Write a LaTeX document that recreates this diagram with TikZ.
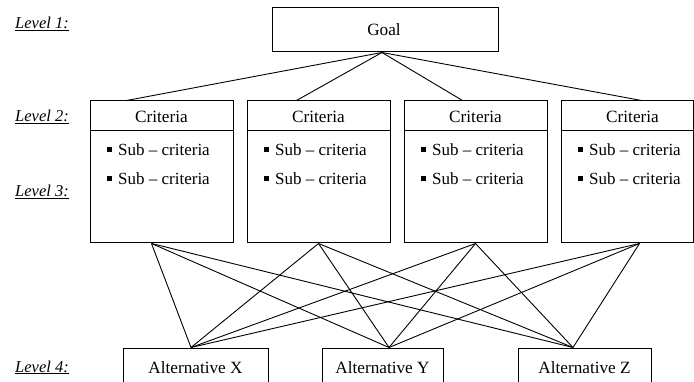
\documentclass[tikz,border=0pt]{standalone}
\usepackage{fontspec}
\setmainfont{Liberation Serif}
\usetikzlibrary{calc}
\newcommand{\mysubcrit}{\rule[3.5pt]{5pt}{5pt}\hspace{6pt}Sub -- criteria}
\begin{document}
\begin{tikzpicture}[x=1pt,y=-1pt,
  box/.style={draw, line width=1pt, inner sep=0pt},
  txt/.style={font=\fontsize{17.2}{20}\selectfont, inner sep=0pt, anchor=base},
  subtxt/.style={font=\fontsize{17}{20}\selectfont, inner sep=0pt, anchor=base west},
  lvl/.style={font=\fontsize{16.5}{20}\selectfont\itshape, inner sep=0pt, anchor=base west},
  link/.style={line width=0.9pt}]
\useasboundingbox (0,0) rectangle (694,382);
\clip (0,0) rectangle (694,382);
% level labels
\node[lvl] (l1) at (15,29) {\underline{Level 1:}};
\node[lvl] (l2) at (15,122) {\underline{Level 2:}};
\node[lvl] (l3) at (15,197) {\underline{Level 3:}};
\node[lvl] (l4) at (15,372) {\underline{Level 4:}};
% goal
\node[box, minimum width=226pt, minimum height=44pt] (goal) at (385,30) {};
\node[txt] (goaltxt) at (384,36) {Goal};
% criteria boxes
\node[box, minimum width=143pt, minimum height=142pt] (c1) at (161.5,172) {};
\node[box, minimum width=143pt, minimum height=142pt] (c2) at (318.5,172) {};
\node[box, minimum width=143pt, minimum height=142pt] (c3) at (475.5,172) {};
\node[box, minimum width=132pt, minimum height=142pt] (c4) at (627,172) {};
\foreach \i/\cx/\lx in {1/161.5/90, 2/318.5/247, 3/475.5/404, 4/632.5/561} {
  \draw[box] ($(c\i.north west)+(0,30)$) -- ($(c\i.north east)+(0,30)$);
  \node[txt] (h\i) at (\cx,122.5) {Criteria};
  \node[subtxt] (sa\i) at (\lx+17,156) {\mysubcrit};
  \node[subtxt] (sb\i) at (\lx+17,185) {\mysubcrit};
}
% alternatives
\node[box, minimum width=145pt, minimum height=52pt] (ax) at (195.5,374) {};
\node[box, minimum width=121pt, minimum height=52pt] (ay) at (382.5,374) {};
\node[box, minimum width=133pt, minimum height=52pt] (az) at (584.5,374) {};
\node[txt] (axt) at (195.5,373) {Alternative X};
\node[txt] (ayt) at (382.5,373) {Alternative Y};
\node[txt] (azt) at (584.5,373) {Alternative Z};
% attachment points
\coordinate (g0) at ([xshift=-3pt]goal.south);
\coordinate (t1) at ([xshift=37pt]c1.north west);
\coordinate (t2) at ([xshift=50pt]c2.north west);
\coordinate (t3) at ([xshift=59pt]c3.north west);
\coordinate (t4) at ([xshift=81pt]c4.north west);
\coordinate (b1) at ([xshift=62pt]c1.south west);
\coordinate (b2) at ([xshift=72pt]c2.south west);
\coordinate (b3) at ([xshift=72pt]c3.south west);
\coordinate (b4) at ([xshift=79pt]c4.south west);
\coordinate (px) at ([xshift=-4.5pt]ax.north);
\coordinate (py) at ([xshift=6.5pt]ay.north);
\coordinate (pz) at ([xshift=-11.5pt]az.north);
\foreach \t in {t1,t2,t3,t4} \draw[link] (g0) -- (\t);
\foreach \b in {b1,b2,b3,b4} {
  \foreach \p in {px,py,pz} \draw[link] (\b) -- (\p);
}
\end{tikzpicture}
\end{document}
